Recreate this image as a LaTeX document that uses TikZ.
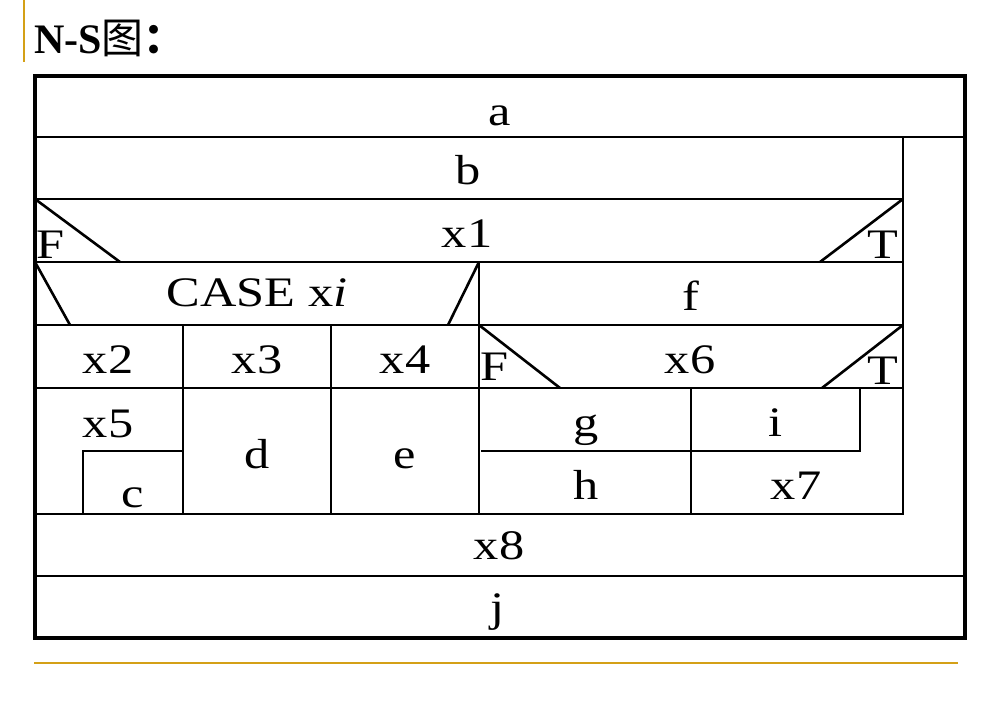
\documentclass[tikz,border=0pt]{standalone}
\usepackage{fontspec}
\setmainfont{Liberation Serif}
\newfontfamily\lblfont{Liberation Serif}[FakeStretch=1.2]
\newfontfamily\cjk{Noto Sans CJK SC}
\usetikzlibrary{positioning}
\definecolor{rulegold}{RGB}{212,160,23}

\begin{document}
\begin{tikzpicture}[x=1pt,y=-1pt,
                    lbl/.style={anchor=base,inner sep=0pt,font=\lblfont\fontsize{42}{42}\selectfont},
                    cell/.style={line width=2.6pt},
                    frame/.style={line width=3.2pt}]

  \useasboundingbox (0,0) rectangle (981,709);

  % page decoration
  \draw[rulegold,line width=2pt] (24,0) -- (24,62);
  \draw[rulegold,line width=2pt] (34,663) -- (958,663);
  \node[anchor=base west,inner sep=0pt,font=\bfseries\fontsize{42}{42}\selectfont] (title) at (34,53) {N-S{\cjk\mdseries 图}{\cjk ：}};

  % outer frame and full-width rows
  \draw[frame] (35,76) rectangle (965,638);
  \draw[cell] (35,137) -- (965,137);
  \draw[cell] (35,576) -- (965,576);
  \draw[cell] (903,137) -- (903,514) -- (35,514);

  % b, x1, case / f rows
  \draw[cell] (35,199) -- (903,199);
  \draw[cell] (35,199) -- (120,262);
  \draw[cell] (903,199) -- (820,262);
  \draw[cell] (35,262) -- (903,262);
  \draw[cell] (479,262) -- (479,514);
  \draw[cell] (35,262) -- (70,325);
  \draw[cell] (479,262) -- (448,325);
  \draw[cell] (35,325) -- (903,325);

  % case branches
  \draw[cell] (183,325) -- (183,514);
  \draw[cell] (331,325) -- (331,514);
  \draw[cell] (35,388) -- (903,388);
  \draw[cell] (83,514) -- (83,451) -- (183,451);

  % x6 branches
  \draw[cell] (479,325) -- (560,388);
  \draw[cell] (903,325) -- (822,388);
  \draw[cell] (691,388) -- (691,514);
  \draw[cell] (481,451) -- (860,451) -- (860,388);

  \node[lbl] (a) at (500,125) {a};
  \node[lbl] (b) at (468,184) {b};
  \node[lbl] (x1) at (467,247) {x1};
  \node[lbl,anchor=base west] (F1) at (36,258) {F};
  \node[lbl] (T1) at (883,258) {T};
  \node[lbl] (case) at (257,306) {CASE x\textit{i}};
  \node[lbl] (f) at (691,310) {f};
  \node[lbl] (x2) at (108,373) {x2};
  \node[lbl] (x3) at (257,373) {x3};
  \node[lbl] (x4) at (405,373) {x4};
  \node[lbl,anchor=base west] (F2) at (480,380) {F};
  \node[lbl] (x6) at (690,373) {x6};
  \node[lbl] (T2) at (883,384) {T};
  \node[lbl] (x5) at (108,437) {x5};
  \node[lbl] (c) at (133,507) {c};
  \node[lbl] (d) at (257,468) {d};
  \node[lbl] (e) at (405,468) {e};
  \node[lbl] (g) at (586,436) {g};
  \node[lbl] (i) at (775,436) {i};
  \node[lbl] (h) at (586,499) {h};
  \node[lbl] (x7) at (796,499) {x7};
  \node[lbl] (x8) at (499,559) {x8};
  \node[lbl] (j) at (497,621) {j};

\end{tikzpicture}
\end{document}
